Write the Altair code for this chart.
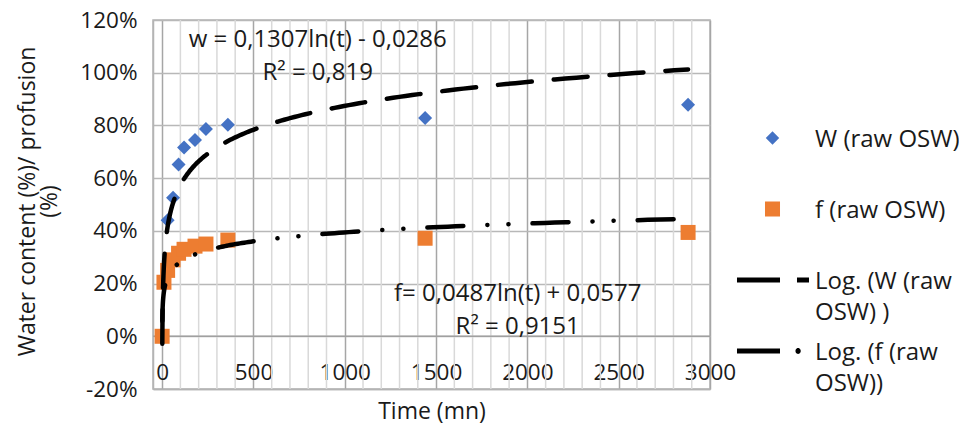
import math
import altair as alt
import pandas as pd

# ---- data ----
t_W = [0, 30, 60, 90, 120, 180, 240, 360, 1440, 2880]
w_vals = [0.0, 0.44, 0.526, 0.652, 0.716, 0.745, 0.786, 0.803, 0.828, 0.878]
t_f = [0, 10, 30, 60, 90, 120, 180, 240, 360, 1440, 2880]
f_vals = [0.0, 0.205, 0.25, 0.29, 0.315, 0.33, 0.342, 0.35, 0.365, 0.372, 0.394]

# trendline coefficients printed on the chart (a*ln(t) + b)
w_coef = [0.1307, -0.0286]
f_coef = [0.0487, 0.0577]
t_range = [1, 2880]

series = ["W (raw OSW)", "f (raw OSW)", "Log. (W (raw|OSW) )", "Log. (f (raw|OSW))"]
series_colors = ["#4472C4", "#ED7D31", "#000000", "#000000"]

x_major = [0, 500, 1000, 1500, 2000, 2500, 3000]
x_minor = [v for v in range(100, 3000, 100) if v % 500 != 0]
y_ticks = [-0.2, 0.0, 0.2, 0.4, 0.6, 0.8, 1.0, 1.2]

annotations = ["w = 0,1307ln(t) - 0,0286|R² = 0,819", "f= 0,0487ln(t) + 0,0577|R² = 0,9151"]
ann_t = [852, 1947]
ann_v = [1.168, 0.206]

FONT = "Open Sans"
TXT = "#1a1a1a"

xs = alt.Scale(domain=[-50, 3000], nice=False, zero=False)
ys = alt.Scale(domain=[-0.2, 1.2], nice=False, zero=False)

x_axis = alt.Axis(
    values=x_major, title="Time (mn)", format="d",
    labelOverlap=False, labelFlush=False, ticks=False, domain=True,
    domainColor="#B4B4B4", domainWidth=1.5,
    labelPadding=-28, labelFont=FONT, labelFontSize=22.5, labelColor=TXT,
    labelLineHeight=20,
    grid=True, gridWidth=1.5, gridColor="#A6A6A6",
    titleFont=FONT, titleFontSize=23, titleFontWeight="normal", titleColor=TXT,
    titleY=11, titleBaseline="top",
)
y_axis = alt.Axis(
    values=y_ticks, title=["Water content (%)/ profusion", "(%)"],
    labelExpr="(datum.value < 0 ? '-' : '') + format(abs(datum.value) * 100, '.0f') + '%'",
    ticks=False, labelPadding=16, domain=True, domainColor="#B4B4B4", domainWidth=1.5,
    labelFont=FONT, labelFontSize=22.5, labelColor=TXT, labelLineHeight=20,
    grid=True, gridColor="#B8B8B8", gridWidth=1.5,
    titleFont=FONT, titleFontSize=23, titleFontWeight="normal", titleColor=TXT,
    titleAngle=-90, titleBaseline="top", titleAlign="center", titleLineHeight=22,
    titleX=-137, titleY=181,
)

minor_grid = alt.Chart(pd.DataFrame({"t": x_minor})).mark_rule(
    color="#D9D9D9", strokeWidth=1.5
).encode(x=alt.X("t:Q", scale=xs, axis=x_axis))

pts_W = alt.Chart(pd.DataFrame({"t": t_W, "v": w_vals})).mark_point(
    shape="diamond", filled=True, size=196, color="#4472C4", opacity=1
).encode(x=alt.X("t:Q", scale=xs), y=alt.Y("v:Q", scale=ys, axis=y_axis))

pts_f = alt.Chart(pd.DataFrame({"t": t_f, "v": f_vals})).mark_point(
    shape="square", filled=True, size=225, color="#ED7D31", opacity=1
).encode(x=alt.X("t:Q", scale=xs), y=alt.Y("v:Q", scale=ys))

zero_rule = alt.Chart(pd.DataFrame({"v": [0.0]})).mark_rule(
    color="#A0A0A0", strokeWidth=1.5
).encode(y=alt.Y("v:Q", scale=ys))

N = 300
lr = math.log(t_range[1] / t_range[0])
seq = alt.sequence(0, N + 1, as_="k")


def trend(coef, dash):
    return alt.Chart(seq).transform_calculate(
        t=f"{t_range[0]} * exp(datum.k * {lr} / {N})"
    ).transform_calculate(
        v=f"{coef[0]} * log(datum.t) + ({coef[1]})"
    ).mark_line(
        color="black", strokeWidth=4.5, strokeDash=dash, strokeCap="round", clip=True
    ).encode(x=alt.X("t:Q", scale=xs), y=alt.Y("v:Q", scale=ys), order="k:Q")


line_W = trend(w_coef, [34, 22])
line_f = trend(f_coef, [36, 24, 0.1, 21, 0.1, 24])

ann = alt.Chart(pd.DataFrame({"label": annotations, "t": ann_t, "v": ann_v})).transform_calculate(
    lines="split(datum.label, '|')"
).mark_text(
    font=FONT, fontSize=24, baseline="top", align="center", lineHeight=33, color=TXT
).encode(x=alt.X("t:Q", scale=xs), y=alt.Y("v:Q", scale=ys), text="lines:N")

# legend glyphs: path unit = sqrt(size)/2 = R px; a tiny invisible box at the
# bottom makes every legend row the same height
R = 16.0


def u(px):
    return f"{px / R:.3f}"


DY = 10.4
pad = f" M0,{u(54)} h0.001 v0.001 h-0.001 Z"
p_diamond = f"M0,{u(DY-6.7)} L{u(6.7)},{u(DY)} L0,{u(DY+6.7)} L{u(-6.7)},{u(DY)} Z" + pad
p_square = f"M{u(-7.5)},{u(DY-7.5)} H{u(7.5)} V{u(DY+7.5)} H{u(-7.5)} Z" + pad
bar = f"M{u(-35.5)},{u(DY-2.5)} H{u(7.5)} V{u(DY+2.5)} H{u(-35.5)} Z "
p_lineW = bar + f"M{u(24.5)},{u(DY-2.5)} H{u(36.5)} V{u(DY+2.5)} H{u(24.5)} Z" + pad
p_lineF = bar + (f"M{u(23)},{u(DY)} A{u(2.6)},{u(2.6)} 0 1,0 {u(28.2)},{u(DY)} "
                 f"A{u(2.6)},{u(2.6)} 0 1,0 {u(23)},{u(DY)} Z") + pad

leg = alt.Legend(
    orient="none", legendX=603.5, legendY=91.6, title=None,
    labelFont=FONT, labelFontSize=24, labelColor=TXT,
    labelExpr="split(datum.label, '|')", labelOffset=26.5, labelLimit=400,
    labelBaseline="top", rowPadding=0, padding=0, symbolStrokeWidth=0,
    symbolOpacity=1, symbolSize=(2 * R) ** 2,
)

legend_layer = alt.Chart(pd.DataFrame({"series": series})).transform_filter("false").mark_point(
    filled=True, size=(2 * R) ** 2, opacity=1
).encode(
    x=alt.value(0), y=alt.value(0),
    shape=alt.Shape("series:N", scale=alt.Scale(domain=series, range=[p_diamond, p_square, p_lineW, p_lineF]), legend=leg),
    color=alt.Color("series:N", scale=alt.Scale(domain=series, range=series_colors), legend=leg),
)

chart = alt.layer(minor_grid, zero_rule, pts_W, pts_f, line_W, line_f, ann, legend_layer).properties(
    width=557, height=369,
    autosize=alt.AutoSizeParams(type="none"),
    padding={"left": 145, "top": 12, "right": 249, "bottom": 38},
).configure(
    background="white", style={"guide-label": {"lineHeight": 31}}
).configure_view(stroke="#B4B4B4", strokeWidth=1.5)

chart.save("out.html", embed_options={"renderer": "svg", "actions": False})
